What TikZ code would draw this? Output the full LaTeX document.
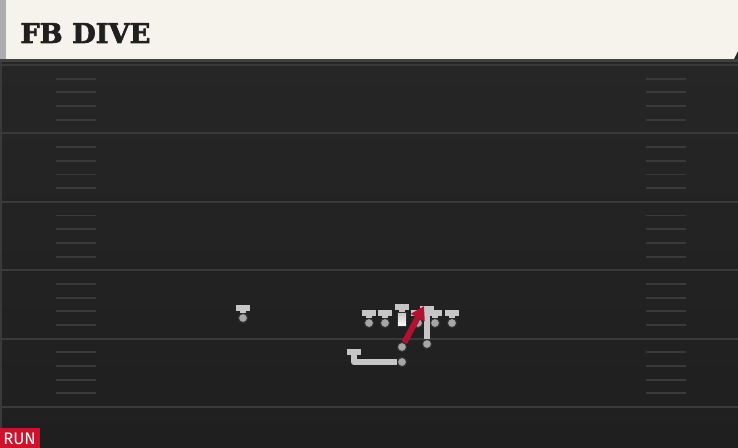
\documentclass[tikz,border=0pt]{standalone}
\usepackage{fontspec}
\usepackage{tikz}
\usetikzlibrary{arrows.meta}
\newfontfamily\titleFont[UprightFont={* Bold}, FakeBold=2.5]{DejaVu Serif}
\newfontfamily\tagFont{Fira Sans}
\definecolor{fieldTop}{HTML}{272727}
\definecolor{fieldBottom}{HTML}{1F1F1F}
\definecolor{lineGray}{HTML}{3A3A3A}
\definecolor{barCream}{HTML}{F5F3EC}
\definecolor{playerGray}{HTML}{C6C6C6}
\definecolor{ballGray}{HTML}{A6A6A6}
\definecolor{routeRed}{HTML}{B3112E}
\definecolor{tagRed}{HTML}{D0112B}
\newcommand{\fieldScale}[0]{0.02cm}
\newcommand{\capWidth}[0]{8.4pt}
\newcommand{\yardGap}[0]{68.4}

\begin{document}
\begin{tikzpicture}[x=\fieldScale, y=-\fieldScale]
  \tikzset{ball/.style={circle, fill=ballGray, draw=black!80, line width=0.6pt, inner sep=0pt, minimum size=5.2pt},
    block/.style={draw=playerGray, line width=3.4pt, line join=round, -{Bar[width=\capWidth, line width=3.4pt]}},
    route/.style={draw=routeRed, line width=3.4pt, -{Triangle[length=7.5pt, width=8.5pt]}},
    hash/.style={draw=lineGray, line width=1.1pt},
    yard/.style={draw=lineGray, line width=1.2pt}}
  \useasboundingbox (0,0) rectangle (738,448);
  \fill[top color=fieldTop, bottom color=fieldBottom] (0,0) rectangle (738,448);
  \foreach \k in {0,...,5}
    \draw[yard] (2,65+\k*\yardGap) -- (738,65+\k*\yardGap);
  \foreach \k in {0,...,4}
    \foreach \j in {1,...,4} {
      \draw[hash] (56,65+\k*\yardGap+\j*13.7) -- (96,65+\k*\yardGap+\j*13.7);
      \draw[hash] (646,65+\k*\yardGap+\j*13.7) -- (686,65+\k*\yardGap+\j*13.7);
    }
  \draw[lineGray, line width=1.2pt] (1,60) -- (1,448);
  \fill[black!75] (0,59) rectangle (738,62);
  \fill[barCream] (6,0) -- (738,0) -- (738,51) -- (734,59) -- (6,59) -- cycle;
  \fill[black!32] (0,0) rectangle (6,59);
  \node[anchor=base west, inner sep=0pt, text=black!88, font=\titleFont\fontsize{15.5}{18}\selectfont] (title) at (20,43) {FB DIVE};
  \fill[tagRed] (0,428) rectangle (40,448);
  \node[text=white, inner sep=0pt, font=\tagFont\fontsize{9.5}{12}\selectfont] (tag) at (19.5,438.5) {RUN};
  % players
  \node[ball] (WR-1) at (243,318) {};
  \node[ball] (OL-1) at (369,323) {};
  \node[ball] (OL-2) at (385,323) {};
  \node[draw=black!80, line width=0.6pt, top color=playerGray, bottom color=white, inner sep=0pt, minimum width=5pt, minimum height=8pt] (C-1) at (402,319.5) {};
  \node[ball] (OL-3) at (418,323) {};
  \node[ball] (OL-4) at (435,323) {};
  \node[ball] (OL-5) at (452,323) {};
  \node[ball] (FB-1) at (427,344) {};
  \node[ball] (QB-1) at (402,347) {};
  \node[ball] (HB-1) at (402,362) {};
  \coordinate (WR-1-end) at (243,305);
  \coordinate (OL-1-end) at (369,310);
  \coordinate (OL-2-end) at (385,310);
  \coordinate (C-1-end) at (402,304);
  \coordinate (OL-3-end) at (418,310);
  \coordinate (OL-4-end) at (435,310);
  \coordinate (OL-5-end) at (452,310);
  \coordinate (FB-1-end) at (427,306);
  \coordinate (QB-1-end) at (424,306);
  \coordinate (HB-1-turn) at (354,362);
  \coordinate (HB-1-end) at (354,349);
  \draw[block] (WR-1) -- (WR-1-end);
  \draw[block] (OL-1) -- (OL-1-end);
  \draw[block] (OL-2) -- (OL-2-end);
  \draw[block] (C-1) -- (C-1-end);
  \draw[block] (OL-3) -- (OL-3-end);
  \draw[block] (OL-4) -- (OL-4-end);
  \draw[block] (OL-5) -- (OL-5-end);
  \draw[block] (FB-1) -- (FB-1-end);
  \draw[block] (HB-1) -- (HB-1-turn) -- (HB-1-end);
  \draw[route] (QB-1) -- (QB-1-end);
\end{tikzpicture}
\end{document}
